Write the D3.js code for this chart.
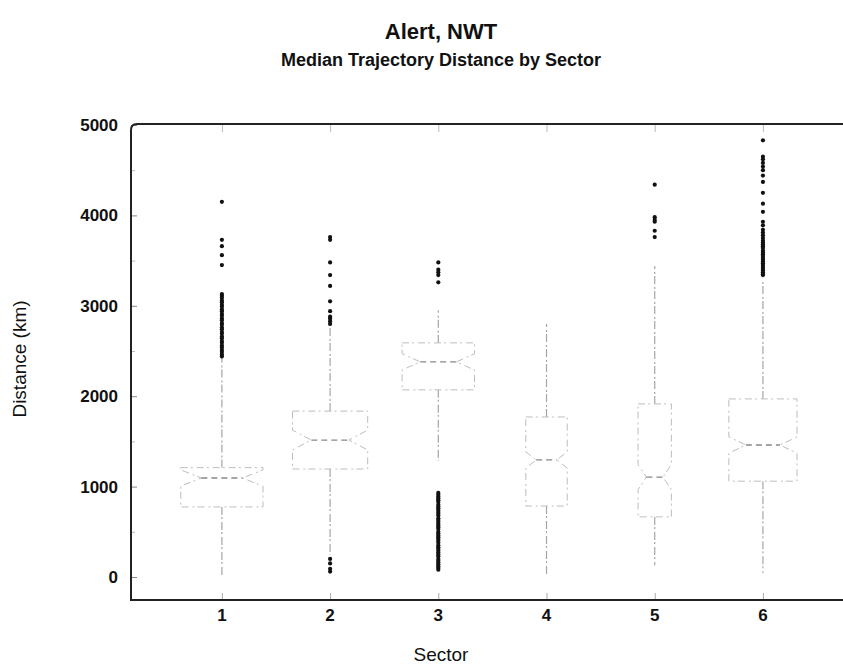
<!DOCTYPE html>
<html>
<head>
<meta charset="utf-8">
<script src="https://cdn.jsdelivr.net/npm/d3@7"></script>
<style>
    body { margin: 0; background: #fff; }
    #box-chart { width: 843px; height: 666px; }
    .bx-title { font-family: "Liberation Sans", Arial, sans-serif; font-weight: bold; fill: #111; }
    .bx-tick text { font-family: "Liberation Sans", Arial, sans-serif; font-weight: bold; font-size: 17px; fill: #111; }
    .bx-label { font-family: "Liberation Sans", Arial, sans-serif; font-size: 19px; fill: #111; }
</style>
</head>
<body>
<div id="box-chart"></div>
<script>
///// DATA
const sectors = [1, 2, 3, 4, 5, 6];
const sampleSize = [670, 560, 520, 170, 110, 460];
const whiskerLow = [20, 250, 1290, 20, 130, 45];
const quartile1 = [775, 1195, 2070, 785, 665, 1060];
const medians = [1095, 1515, 2380, 1295, 1105, 1460];
const quartile3 = [1210, 1835, 2590, 1770, 1915, 1970];
const whiskerHigh = [2430, 2790, 2950, 2800, 3440, 3300];
const notchHalf = [90, 110, 90, 90, 140, 90];
const outliers = [
    [4150, 3730, 3660, 3560, 3450, 3130, 3110, 3090, 3060, 3040, 3010, 2990, 2960, 2940, 2910, 2890, 2860,
        2840, 2810, 2790, 2760, 2740, 2710, 2690, 2660, 2640, 2610, 2590, 2560, 2540, 2510, 2490, 2460, 2440],
    [3760, 3730, 3480, 3340, 3220, 3050, 2940, 2880, 2860, 2830, 2800, 200, 150, 90, 60],
    [3480, 3400, 3370, 3340, 3260, 930, 910, 890, 870, 850, 830, 800, 780, 760, 740, 720, 700, 680, 650,
        630, 610, 590, 570, 550, 530, 500, 480, 460, 440, 420, 400, 380, 350, 330, 310, 290, 270, 250, 230,
        200, 180, 160, 140, 120, 100, 80],
    [],
    [4340, 3980, 3950, 3930, 3830, 3760],
    [4830, 4650, 4620, 4580, 4540, 4500, 4440, 4370, 4250, 4130, 4040, 3930, 3890, 3840, 3810, 3780, 3750,
        3720, 3700, 3680, 3660, 3640, 3610, 3590, 3570, 3550, 3530, 3510, 3490, 3470, 3450, 3430, 3410, 3390,
        3370, 3350, 3340]
];
const yTickLabels = [0, 1000, 2000, 3000, 4000, 5000];
const yMinorTicks = [500, 1500, 2500, 3500, 4500];

class BoxChart {
    constructor(el) {
        const vis = this;
        vis.el = el;
        vis.init();
    }

    init() {
        const vis = this;
        vis.chartDiv = document.getElementById(vis.el);
        vis.chartDiv.innerHTML = '';
        vis.svg = d3.select(vis.chartDiv).append('svg')
            .attr('width', 843)
            .attr('height', 666);
        vis.redraw();
    }

    redraw() {
        const vis = this;
        const MARGIN = { top: 124, right: 0, bottom: 66, left: 131 };
        const width = 843;
        const height = 666;
        const plotBottom = height - MARGIN.bottom;

        // SCALES
        const x = d3.scaleLinear()
            .domain([0.16, 6.74])
            .range([MARGIN.left, width - MARGIN.right]);

        const y = d3.scaleLinear()
            .domain([0, 5000])
            .range([577, 125]);

        const step = x(2) - x(1);
        const maxN = d3.max(sampleSize);
        const boxW = i => step * 0.76 * Math.sqrt(sampleSize[i] / maxN);

        // TITLES
        vis.svg.append('text').attr('class', 'bx-title')
            .attr('x', 441).attr('y', 39)
            .attr('text-anchor', 'middle')
            .style('font-size', '22px')
            .text('Alert, NWT');

        vis.svg.append('text').attr('class', 'bx-title')
            .attr('x', 441).attr('y', 66)
            .attr('text-anchor', 'middle')
            .style('font-size', '18px')
            .text('Median Trajectory Distance by Sector');

        // Y AXIS (labels + inward ticks)
        const yAxis = vis.svg.append('g').attr('class', 'bx-tick')
            .attr('transform', `translate(${MARGIN.left}, 0)`)
            .call(d3.axisRight(y).tickValues(yTickLabels).tickSize(6).tickFormat(''));
        yAxis.select('.domain').remove();
        yAxis.selectAll('line').attr('stroke', '#888');

        vis.svg.append('g').attr('class', 'bx-tick')
            .selectAll('text')
            .data(yTickLabels)
            .join('text')
            .attr('x', 118)
            .attr('y', d => y(d))
            .attr('dy', '0.35em')
            .attr('text-anchor', 'end')
            .text(d => d);

        vis.svg.append('g')
            .attr('transform', `translate(${MARGIN.left}, 0)`)
            .call(d3.axisRight(y).tickValues(yMinorTicks).tickSize(4).tickFormat(''))
            .call(g => g.select('.domain').remove())
            .selectAll('line').attr('stroke', '#bbb');

        // X AXIS (bottom labels, inward ticks top and bottom)
        const xAxis = vis.svg.append('g').attr('class', 'bx-tick')
            .attr('transform', `translate(0, ${plotBottom})`)
            .call(d3.axisTop(x).tickValues(sectors).tickSize(7).tickFormat(''));
        xAxis.select('.domain').remove();
        xAxis.selectAll('line').attr('stroke', '#aaa');

        vis.svg.append('g').attr('class', 'bx-tick')
            .selectAll('text')
            .data(sectors)
            .join('text')
            .attr('x', d => x(d))
            .attr('y', plotBottom + 21)
            .attr('text-anchor', 'middle')
            .text(d => d);

        vis.svg.append('g')
            .attr('transform', `translate(0, ${MARGIN.top})`)
            .call(d3.axisBottom(x).tickValues(sectors).tickSize(8).tickFormat(''))
            .call(g => g.select('.domain').remove())
            .selectAll('line').attr('stroke', '#bbb');

        // FRAME
        vis.svg.append('path')
            .attr('d', `M${width},${MARGIN.top}H${MARGIN.left + 6}Q${MARGIN.left},${MARGIN.top} ${MARGIN.left},${MARGIN.top + 6}V${plotBottom}H${width}`)
            .attr('fill', 'none')
            .attr('stroke', '#222')
            .attr('stroke-width', 2);

        // AXIS TITLES
        vis.svg.append('text').attr('class', 'bx-label')
            .attr('transform', `translate(26, ${(y(0) + y(5000)) / 2 + 8}) rotate(-90)`)
            .attr('text-anchor', 'middle')
            .text('Distance (km)');

        vis.svg.append('text').attr('class', 'bx-label')
            .attr('x', 441)
            .attr('y', 661)
            .attr('text-anchor', 'middle')
            .text('Sector');

        // BOXES
        const boxes = vis.svg.append('g').attr('class', 'bx-boxes')
            .selectAll('g')
            .data(sectors)
            .join('g');

        // whiskers
        boxes.append('line')
            .attr('x1', d => x(d)).attr('x2', d => x(d))
            .attr('y1', (d, i) => y(quartile3[i])).attr('y2', (d, i) => y(whiskerHigh[i]))
            .attr('stroke', '#a5a5a5')
            .attr('stroke-width', 1.2)
            .attr('stroke-dasharray', '8,2,2,3');

        boxes.append('line')
            .attr('x1', d => x(d)).attr('x2', d => x(d))
            .attr('y1', (d, i) => y(quartile1[i])).attr('y2', (d, i) => y(whiskerLow[i]))
            .attr('stroke', '#a5a5a5')
            .attr('stroke-width', 1.2)
            .attr('stroke-dasharray', '8,2,2,3');

        // notched box outline
        const notchedBox = (d, i) => {
            const cx = x(d);
            const hw = boxW(i) / 2;
            const nw = hw / 2;
            const yQ1 = y(quartile1[i]);
            const yQ3 = y(quartile3[i]);
            const yM = y(medians[i]);
            const yNHi = y(Math.min(medians[i] + notchHalf[i], quartile3[i]));
            const yNLo = y(Math.max(medians[i] - notchHalf[i], quartile1[i]));
            return `M${cx - hw},${yQ3}H${cx + hw}V${yNHi}L${cx + nw},${yM}L${cx + hw},${yNLo}V${yQ1}` +
                `H${cx - hw}V${yNLo}L${cx - nw},${yM}L${cx - hw},${yNHi}Z`;
        };

        boxes.append('path')
            .attr('d', notchedBox)
            .attr('fill', 'none')
            .attr('stroke', '#bdbdbd')
            .attr('stroke-width', 1)
            .attr('stroke-dasharray', '7,3,2,4');

        // median line
        boxes.append('line')
            .attr('x1', (d, i) => x(d) - boxW(i) / 4)
            .attr('x2', (d, i) => x(d) + boxW(i) / 4)
            .attr('y1', (d, i) => y(medians[i]))
            .attr('y2', (d, i) => y(medians[i]))
            .attr('stroke', '#888')
            .attr('stroke-width', 1.3)
            .attr('stroke-dasharray', '6,4');

        // OUTLIERS
        boxes.each(function (d, i) {
            d3.select(this).selectAll('circle')
                .data(outliers[i])
                .join('circle')
                .attr('cx', x(d))
                .attr('cy', v => y(v))
                .attr('r', 2.1)
                .attr('fill', '#111');
        });
    }
}

new BoxChart('box-chart');
</script>
</body>
</html>
